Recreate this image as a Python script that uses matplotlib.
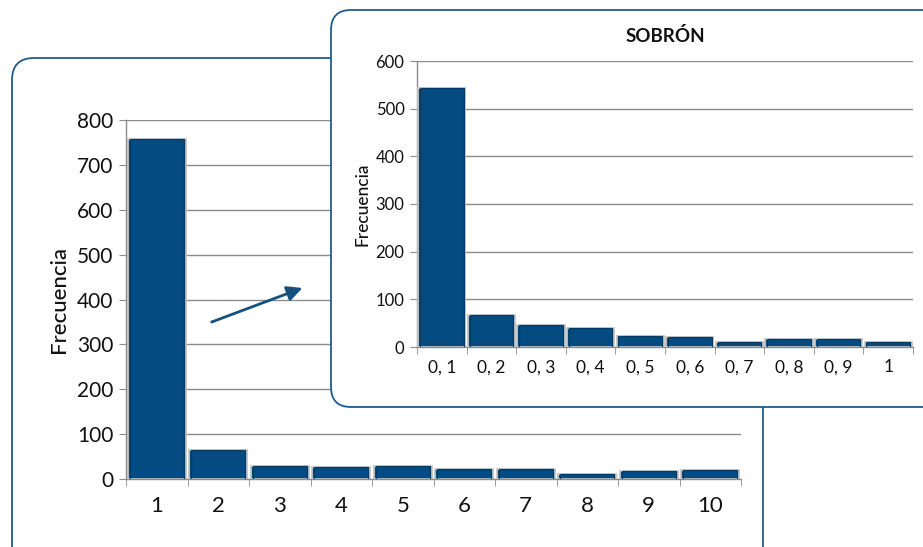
import matplotlib
matplotlib.use("Agg")
import matplotlib.pyplot as plt
from matplotlib.patches import FancyBboxPatch

plt.rcParams['font.family'] = ['Lato', 'DejaVu Sans']

# Main histogram data
main_categories = ['1', '2', '3', '4', '5', '6', '7', '8', '9', '10']
main_values = [757, 65, 29, 26, 29, 22, 22, 11, 17, 20]
main_yticks = [0, 100, 200, 300, 400, 500, 600, 700, 800]

# Inset histogram data (SOBRÓN)
inset_title = 'SOBRÓN'
inset_categories = ['0, 1', '0, 2', '0, 3', '0, 4', '0, 5', '0, 6', '0, 7', '0, 8', '0, 9', '1']
inset_values = [543, 67, 47, 40, 23, 20, 11, 16, 16, 11]
inset_yticks = [0, 100, 200, 300, 400, 500, 600]

W, H = 923, 547
BAR = '#034b80'
BEVEL = '#c4c4c4'
GRID = '#8c8c8c'
FRAME = '#1f5c8e'
NARROW = ['Liberation Sans Narrow', 'Lato', 'DejaVu Sans']

fig = plt.figure(figsize=(W / 100, H / 100), dpi=100)


def pixel_layer(z):
    ax = fig.add_axes([0, 0, 1, 1], zorder=z)
    ax.set_xlim(0, W)
    ax.set_ylim(H, 0)
    ax.axis('off')
    ax.patch.set_alpha(0)
    return ax


def frac(l, t, r, b):
    return [l / W, 1 - b / H, (r - l) / W, (b - t) / H]


def draw_hist(ax, cats, vals, yticks, tick_fs, label_fs, xfs):
    x = range(len(cats))
    ax.bar(x, vals, width=0.95, color=BAR, edgecolor=BEVEL, linewidth=1.3, zorder=3)
    # darker inner edge for a slight bevel look
    ax.bar(x, vals, width=0.88, color='none', edgecolor='#023a63', linewidth=0.8, zorder=4)
    ax.set_xlim(-0.5, len(cats) - 0.5)
    ax.set_ylim(yticks[0], yticks[-1])
    ax.set_yticks(yticks)
    ax.set_yticklabels([str(v) for v in yticks], fontsize=tick_fs, color='#111111')
    ax.set_xticks(list(x))
    ax.set_xticklabels(cats, fontsize=xfs, color='#111111', family=NARROW)
    ax.set_xticks([i - 0.5 for i in range(len(cats) + 1)], minor=True)
    ax.tick_params(axis='x', which='major', length=0, pad=12)
    ax.tick_params(axis='x', which='minor', length=5, color=GRID, direction='out')
    ax.tick_params(axis='y', length=5, color=GRID, pad=4)
    ax.grid(axis='y', color=GRID, linewidth=1.0, zorder=0)
    ax.set_axisbelow(True)
    for s in ('top', 'right'):
        ax.spines[s].set_visible(False)
    for s in ('left', 'bottom'):
        ax.spines[s].set_color(GRID)
        ax.spines[s].set_linewidth(1.0)
    ax.set_ylabel('Frecuencia', fontsize=label_fs, color='#111111', fontweight='medium')
    ax.patch.set_alpha(0)


# Background frame of the main chart
bg = pixel_layer(0)
bg.add_patch(FancyBboxPatch((12, 58), 751, 520,
                            boxstyle='round,pad=0,rounding_size=22',
                            facecolor='white', edgecolor=FRAME, linewidth=1.3))

# Main chart
ax_main = fig.add_axes(frac(126, 120, 741, 479), zorder=1)
draw_hist(ax_main, main_categories, main_values, main_yticks, 15, 16, 16)
ax_main.yaxis.labelpad = 6

# Overlay: arrow and inset frame
ov = pixel_layer(2)
ov.annotate('', xy=(305, 287), xytext=(209, 323),
            arrowprops=dict(arrowstyle='-|>,head_length=0.9,head_width=0.45',
                            color='#15507f', linewidth=2))
ov.add_patch(FancyBboxPatch((331, 10), 640, 397,
                            boxstyle='round,pad=0,rounding_size=20',
                            facecolor='white', edgecolor=FRAME, linewidth=1.3))

# Inset chart
ax_in = fig.add_axes(frac(417, 61, 913, 347), zorder=3)
draw_hist(ax_in, inset_categories, inset_values, inset_yticks, 12, 12.5, 12.5)
ax_in.tick_params(axis='x', which='major', pad=9)
ax_in.yaxis.labelpad = 4
ax_in.set_title(inset_title, fontsize=13.5, fontweight='bold', color='#111111', pad=14)

fig.savefig('out.png', dpi=100)
